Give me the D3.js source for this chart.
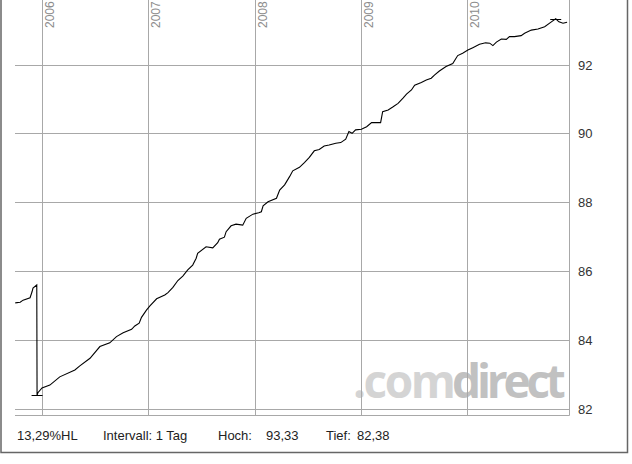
<!DOCTYPE html>
<html><head><meta charset="utf-8">
<script src="https://cdn.jsdelivr.net/npm/d3@7"></script>
<style>html,body{margin:0;padding:0;background:#fff;}svg{display:block;}</style>
</head><body>
<script>
// ---- data ----
const dates = ["2005-09-30","2005-10-17","2005-10-27","2005-11-20","2005-11-27","2005-11-30","2005-12-13","2005-12-14","2005-12-17","2005-12-31",
"2006-01-27","2006-03-02","2006-04-23","2006-05-10","2006-06-14","2006-07-18","2006-08-21","2006-09-13","2006-10-06","2006-11-04",
"2006-11-15","2006-11-30","2006-12-08","2006-12-25","2007-01-06","2007-01-29","2007-02-26","2007-03-09","2007-03-26","2007-04-12",
"2007-04-29","2007-05-16","2007-06-02","2007-06-14","2007-06-19","2007-07-18","2007-08-10","2007-08-27","2007-09-02","2007-09-19",
"2007-09-25","2007-10-12","2007-10-29","2007-11-21","2007-12-03","2007-12-26","2008-01-15","2008-01-24","2008-01-30","2008-02-16",
"2008-03-16","2008-03-27","2008-04-13","2008-04-30","2008-05-11","2008-06-03","2008-06-20","2008-07-07","2008-07-24","2008-08-10",
"2008-08-27","2008-09-13","2008-10-06","2008-10-23","2008-11-09","2008-11-20","2008-12-01","2008-12-13","2009-01-02","2009-01-20",
"2009-02-06","2009-02-23","2009-03-09","2009-03-16","2009-04-04","2009-04-21","2009-05-08","2009-05-25","2009-06-06","2009-06-23",
"2009-07-04","2009-07-27","2009-08-13","2009-08-30","2009-09-10","2009-09-27","2009-10-20","2009-11-12","2009-11-29","2009-12-16",
"2010-01-03","2010-01-20","2010-02-12","2010-03-05","2010-03-19","2010-03-30","2010-04-11","2010-04-28","2010-05-15","2010-05-26",
"2010-06-12","2010-07-05","2010-07-17","2010-08-09","2010-09-01","2010-09-24","2010-10-17","2010-11-01","2010-11-12","2010-11-26",
"2010-12-10"];
const prices = [85.07,85.09,85.15,85.22,85.40,85.50,85.59,82.38,82.46,82.60,
82.68,82.92,83.12,83.24,83.46,83.80,83.91,84.09,84.20,84.30,
84.40,84.48,84.65,84.86,84.98,85.19,85.30,85.37,85.52,85.72,
85.85,86.03,86.17,86.37,86.51,86.70,86.67,86.82,86.92,86.98,
87.14,87.31,87.36,87.33,87.53,87.65,87.69,87.72,87.89,88.01,
88.11,88.35,88.50,88.74,88.91,89.01,89.15,89.30,89.49,89.53,
89.63,89.66,89.71,89.73,89.83,90.05,90.00,90.10,90.12,90.19,
90.31,90.31,90.31,90.63,90.68,90.77,90.87,91.02,91.14,91.26,
91.40,91.48,91.55,91.60,91.69,91.81,91.94,92.03,92.26,92.33,
92.42,92.49,92.59,92.63,92.62,92.55,92.65,92.74,92.73,92.81,
92.81,92.84,92.91,93.00,93.03,93.10,93.24,93.33,93.24,93.20,
93.23];
const yTicks = [82,84,86,88,90,92];
const yearTicks = ["2006","2007","2008","2009","2010"];
const statLabels = ["13,29%HL","Intervall: 1 Tag","Hoch:","93,33","Tief:","82,38"];
const hochValue = 93.33, tiefValue = 82.38;
const hochDate = "2010-11-01", tiefDate = "2005-12-14";
const brandParts = [".com", "direct"];

// ---- layout ----
const W = 632, H = 464;
const plot = {left: 15, right: 569, top: 0, bottom: 415};
const parse = d3.utcParse("%Y-%m-%d");
const data = dates.map((d,i)=>({date: parse(d), v: prices[i]}));

const x = d3.scaleUtc()
  .domain([parse("2006-01-01"), parse("2010-01-01")])
  .range([42.3, 467.3]);
const y = d3.scaleLinear()
  .domain([82, 92])
  .range([408.5, 64.5]);

const svg = d3.select("body").append("svg").attr("width", W).attr("height", H);
const gridColor = "#a8a8a8";
const font = "Arial, 'Liberation Sans', Helvetica, sans-serif";

// watermark
const wmStyle = [
  {x: 353, ls: -2.5, fill: "#d4d4d4"},
  {x: 452, ls: -4.2, fill: "#c1c1c1"}
];
svg.append("g").selectAll("text").data(brandParts).join("text")
  .attr("x", (d,i) => wmStyle[i].x).attr("y", 397.5)
  .attr("font-family", "'Open Sans', 'DejaVu Sans', sans-serif")
  .attr("font-weight", 700)
  .attr("font-size", 46)
  .attr("letter-spacing", (d,i) => wmStyle[i].ls)
  .attr("fill", (d,i) => wmStyle[i].fill)
  .text(d => d);

// horizontal grid
svg.append("g").selectAll("line").data(yTicks).join("line")
  .attr("x1", plot.left).attr("x2", plot.right)
  .attr("y1", d => Math.round(y(d)) + 0.5).attr("y2", d => Math.round(y(d)) + 0.5)
  .attr("stroke", gridColor).attr("stroke-width", 1);

// vertical grid
const yearDates = yearTicks.map(s => parse(s + "-01-01"));
svg.append("g").selectAll("line").data(yearDates).join("line")
  .attr("x1", d => Math.round(x(d)) + 0.5).attr("x2", d => Math.round(x(d)) + 0.5)
  .attr("y1", plot.top).attr("y2", plot.bottom)
  .attr("stroke", gridColor).attr("stroke-width", 1);

// plot border (right + bottom)
svg.append("path")
  .attr("d", `M${plot.left},${plot.bottom + 0.5}H${plot.right + 0.5}V0`)
  .attr("fill", "none").attr("stroke", gridColor).attr("stroke-width", 1);

// year labels (rotated)
svg.append("g").selectAll("text").data(yearDates).join("text")
  .attr("transform", (d) => `translate(${Math.round(x(d)) + 11.5},28) rotate(-90)`)
  .attr("font-family", font).attr("font-size", 12)
  .attr("fill", "#8c8c8c")
  .text((d,i) => yearTicks[i]);

// y labels at right
svg.append("g").selectAll("text").data(yTicks).join("text")
  .attr("x", 578).attr("y", d => Math.round(y(d)) + 5)
  .attr("font-family", font).attr("font-size", 13)
  .attr("fill", "#333")
  .text(d => d);

// price line
const line = d3.line().x(d => x(d.date)).y(d => y(d.v));
svg.append("path").datum(data)
  .attr("d", line)
  .attr("fill", "none").attr("stroke", "#000").attr("stroke-width", 1.1);

// high / low markers
[[hochDate, hochValue], [tiefDate, tiefValue]].forEach(([d, v]) => {
  const cx = x(parse(d)), cy = Math.round(y(v)) + 0.5;
  svg.append("line").attr("x1", cx - 5.5).attr("x2", cx + 5.5)
    .attr("y1", cy).attr("y2", cy)
    .attr("stroke", "#000").attr("stroke-width", 1);
});

// outer frame (left, bottom, right)
svg.append("path")
  .attr("d", `M1,0V452.5H627.5V0`)
  .attr("fill", "none").attr("stroke", "#666").attr("stroke-width", 1.5);

// stats text
const statX = [17, 103, 218, 266, 326, 357];
svg.append("g").selectAll("text").data(statLabels).join("text")
  .attr("x", (d,i) => statX[i]).attr("y", 440)
  .attr("font-family", font).attr("font-size", 13)
  .attr("fill", "#222")
  .text(d => d);
</script>
</body></html>
